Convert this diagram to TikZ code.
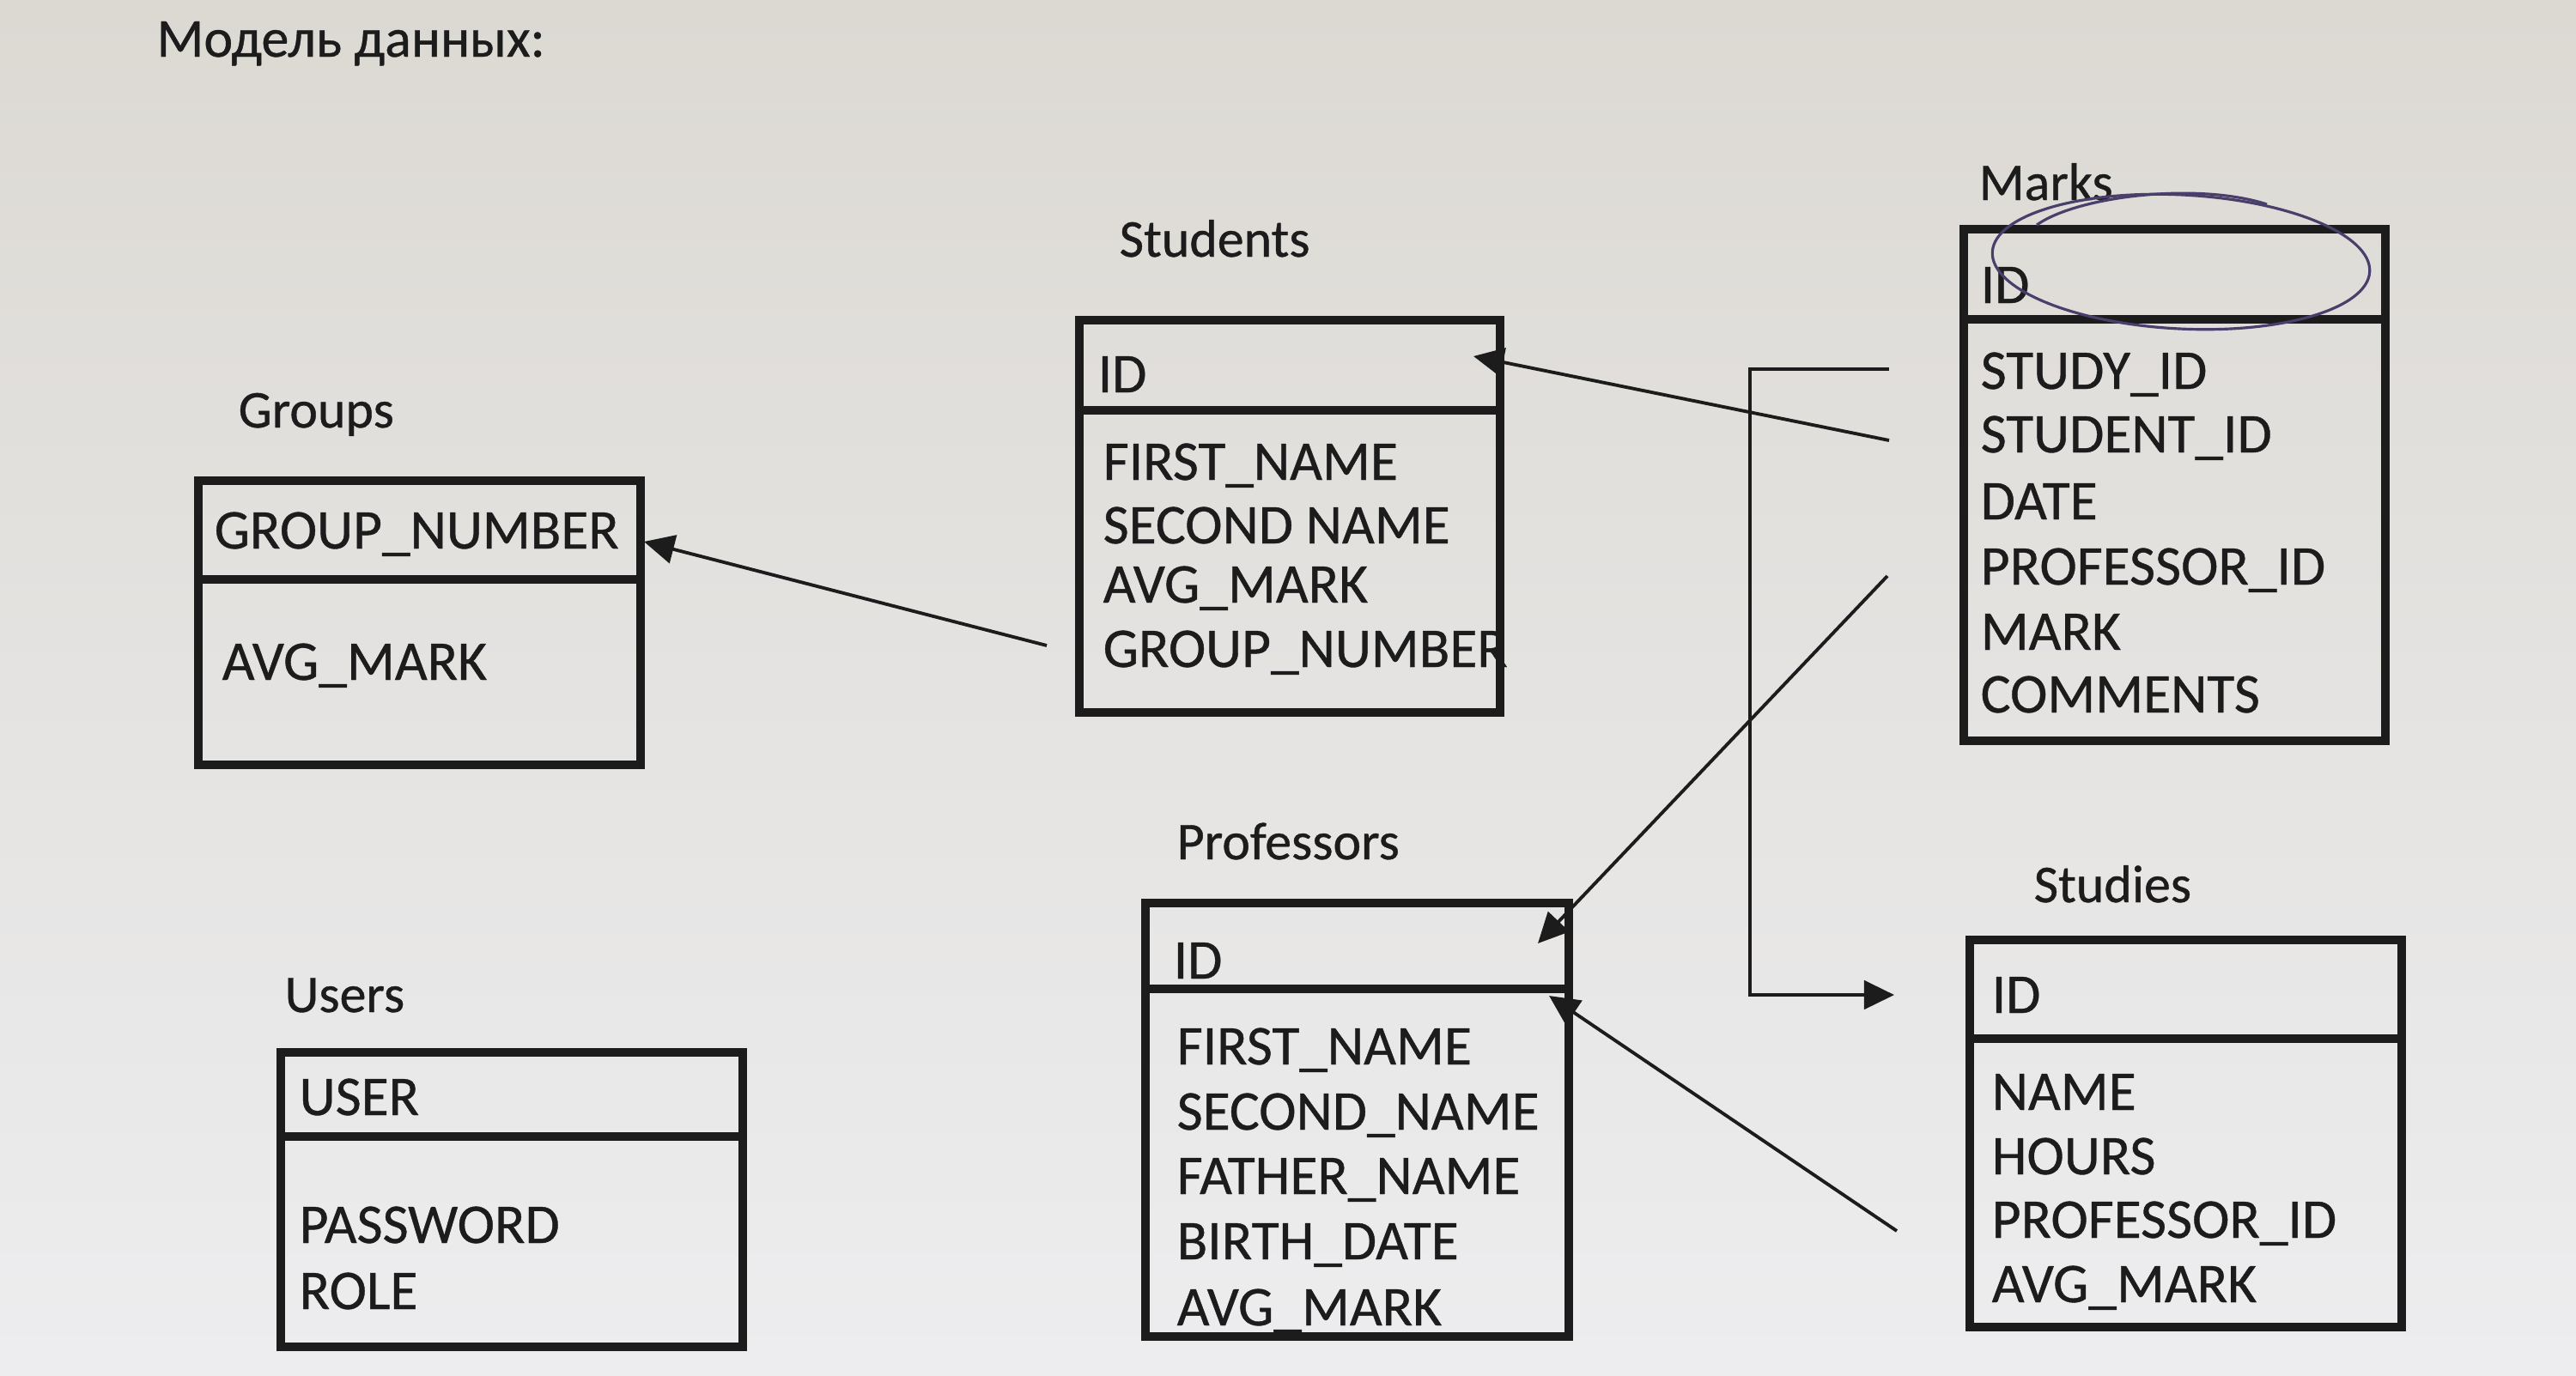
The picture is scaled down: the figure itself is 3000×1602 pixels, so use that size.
\documentclass[tikz,border=0pt]{standalone}
\usepackage{fontspec}
\setmainfont{Carlito}
\newfontfamily\inkfont[FakeBold=0.6]{Carlito}
\usetikzlibrary{arrows.meta}
\definecolor{pagetop}{HTML}{DCD9D3}
\definecolor{pagebot}{HTML}{EDEDEF}
\definecolor{ink}{HTML}{1C1C1C}
\definecolor{pen}{HTML}{4A3F6B}
\begin{document}
\begin{tikzpicture}[x=0.01cm,y=-0.01cm,
  tbl/.style={line width=2.8pt, draw=ink},
  sepline/.style={line width=2.8pt, draw=ink},
  fld/.style={anchor=base west, inner sep=0pt, text=ink, font=\inkfont\fontsize{18.6}{20}\selectfont},
  lbl/.style={anchor=base west, inner sep=0pt, text=ink, font=\inkfont\fontsize{17.6}{19}\selectfont},
  conn/.style={line width=1.1pt, draw=ink, -{Triangle[length=10pt,width=9.5pt]}},
  penline/.style={line width=0.9pt, draw=pen}]
\useasboundingbox (0,0) rectangle (3000,1602);
\fill[top color=pagetop, bottom color=pagebot] (0,0) rectangle (3000,1602);

% title
\node[lbl, font=\inkfont\fontsize{18.2}{20}\selectfont] (title) at (182,66) {Модель данных:};

% Groups
\node[lbl] (lgroups) at (277,498) {Groups};
\draw[tbl] (231,560) rectangle (746,891);
\draw[sepline] (231,675) -- (746,675);
\node[fld] (g1) at (249,639) {GROUP\_NUMBER};
\node[fld] (g2) at (258,792) {AVG\_MARK};

% Students
\node[lbl] (lstudents) at (1303,299) {Students};
\draw[tbl] (1257,373) rectangle (1747,830);
\draw[sepline] (1257,478) -- (1747,478);
\node[fld] (s0) at (1278,457) {ID};
\node[fld] (s1) at (1284,559) {FIRST\_NAME};
\node[fld] (s2) at (1284,633) {SECOND NAME};
\node[fld] (s3) at (1284,702) {AVG\_MARK};
\node[fld] (s4) at (1284,777) {GROUP\_NUMBER};

% Marks
\node[lbl] (lmarks) at (2304,233) {Marks};
\draw[tbl] (2287,267) rectangle (2778,863);
\draw[sepline] (2287,372) -- (2778,372);
\node[fld] (m0) at (2306,353) {ID};
\node[fld] (m1) at (2306,453) {STUDY\_ID};
\node[fld] (m2) at (2306,527) {STUDENT\_ID};
\node[fld] (m3) at (2306,605) {DATE};
\node[fld] (m4) at (2306,681) {PROFESSOR\_ID};
\node[fld] (m5) at (2306,757) {MARK};
\node[fld] (m6) at (2306,830) {COMMENTS};
% hand-drawn pen loop
\draw[penline] (2540,305) ellipse [x radius=220, y radius=78, rotate=-3];
\draw[penline] (2372,262) .. controls (2420,228) and (2560,212) .. (2640,238);

% Professors
\node[lbl] (lprof) at (1370,1001) {Professors};
\draw[tbl] (1334,1052) rectangle (1827,1557);
\draw[sepline] (1334,1152) -- (1827,1152);
\node[fld] (p0) at (1366,1140) {ID};
\node[fld] (p1) at (1370,1240) {FIRST\_NAME};
\node[fld] (p2) at (1370,1316) {SECOND\_NAME};
\node[fld] (p3) at (1370,1391) {FATHER\_NAME};
\node[fld] (p4) at (1370,1467) {BIRTH\_DATE};
\node[fld] (p5) at (1370,1544) {AVG\_MARK};

% Users
\node[lbl] (lusers) at (331,1179) {Users};
\draw[tbl] (327,1226) rectangle (865,1569);
\draw[sepline] (327,1324) -- (865,1324);
\node[fld] (u0) at (348,1299) {USER};
\node[fld] (u1) at (348,1448) {PASSWORD};
\node[fld] (u2) at (348,1525) {ROLE};

% Studies
\node[lbl] (lstudies) at (2368,1051) {Studies};
\draw[tbl] (2294,1095) rectangle (2797,1546);
\draw[sepline] (2294,1210) -- (2797,1210);
\node[fld] (t0) at (2319,1180) {ID};
\node[fld] (t1) at (2319,1293) {NAME};
\node[fld] (t2) at (2319,1368) {HOURS};
\node[fld] (t3) at (2319,1442) {PROFESSOR\_ID};
\node[fld] (t4) at (2319,1517) {AVG\_MARK};

% connector ends
\coordinate (c1s) at (1219,752);  \coordinate (c1e) at (750,631);
\coordinate (c2s) at (2200,513);  \coordinate (c2e) at (1716,415);
\coordinate (c3s) at (2200,430);  \coordinate (c3m) at (2038,430);
\coordinate (c3e) at (2206,1159);
\coordinate (c4s) at (2198,671);  \coordinate (c4e) at (1791,1099);
\coordinate (c5s) at (2209,1434); \coordinate (c5e) at (1804,1160);

\draw[conn] (c1s) -- (c1e);
\draw[conn] (c2s) -- (c2e);
\draw[conn] (c3s) -- (c3m) |- (c3e);
\draw[conn] (c4s) -- (c4e);
\draw[conn] (c5s) -- (c5e);
\end{tikzpicture}
\end{document}
